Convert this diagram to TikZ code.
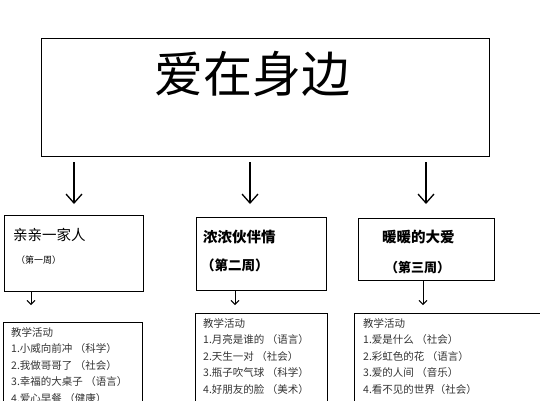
\documentclass[tikz,border=0pt]{standalone}
\usepackage{fontspec}
\setmainfont{Noto Sans CJK SC}
\usepackage{tikz}
\usetikzlibrary{arrows.meta}

\tikzset{
	box/.style={draw=black, line width=0.9pt, anchor=north west, inner sep=0pt},
	bigarrow/.style={line width=1.3pt, -{Straight Barb[length=9pt,width=16pt,line width=1.3pt]}},
	smallarrow/.style={line width=0.9pt, -{Straight Barb[length=4pt,width=8pt]}},
	txt/.style={anchor=west, inner sep=0pt},
	list/.style={anchor=north west, inner sep=0pt, align=left, text=black!80, font=\fontsize{10.5}{16.6}\selectfont}
}

\begin{document}
\begin{tikzpicture}[x=1pt, y=-1pt]
    \useasboundingbox (0,0) rectangle (540,400);
    \clip (0,0) rectangle (540,400);
    % top box
    \node[box, minimum width=448pt, minimum height=118pt] (top) at (41,38) {};
    \node[inner sep=0pt, font=\fontsize{49}{49}\selectfont] (title) at (252,74) {爱在身边};
    % weeks
    \node[box, minimum width=139pt, minimum height=76pt] (week1) at (4,215) {};
    \node[box, minimum width=130pt, minimum height=73pt] (week2) at (196,217) {};
    \node[box, minimum width=136pt, minimum height=62pt] (week3) at (358,218) {};
    \node[txt, font=\fontsize{14.5}{14.5}\selectfont] (name1) at (13,235) {亲亲一家人};
    \node[txt, font=\fontsize{9}{9}\selectfont] (num1) at (16,260) {（第一周）};
    \node[txt, font=\fontsize{14.5}{14.5}\selectfont\bfseries] (name2) at (203,237) {浓浓伙伴情};
    \node[txt, font=\fontsize{13.5}{13.5}\selectfont\bfseries] (num2) at (201,265) {（第二周）};
    \node[txt, font=\fontsize{14.5}{14.5}\selectfont\bfseries] (name3) at (382,237) {暖暖的大爱};
    \node[txt, font=\fontsize{13}{13}\selectfont\bfseries] (num3) at (385,268) {（第三周）};
    % arrows
    \coordinate (a1s) at (74,162);  \coordinate (a1e) at (74,204);
    \coordinate (a2s) at (250,162); \coordinate (a2e) at (250,204);
    \coordinate (a3s) at (426,162); \coordinate (a3e) at (426,204);
    \draw[bigarrow] (a1s) -- (a1e);
    \draw[bigarrow] (a2s) -- (a2e);
    \draw[bigarrow] (a3s) -- (a3e);
    % activities
    \node[box, minimum width=139pt, minimum height=100pt] (act1) at (3,322) {};
    \node[box, minimum width=132pt, minimum height=100pt] (act2) at (195,313) {};
    \node[box, minimum width=200pt, minimum height=100pt] (act3) at (354,313) {};
    \coordinate (b1e) at (31,305);
    \coordinate (b2e) at (235,305);
    \coordinate (b3e) at (423,305);
    \draw[smallarrow] (b1e |- week1.south) -- (b1e);
    \draw[smallarrow] (b2e |- week2.south) -- (b2e);
    \draw[smallarrow] (b3e |- week3.south) -- (b3e);
    \node[list] (list1) at (11,327) {教学活动\\1.小威向前冲 （科学）\\2.我做哥哥了 （社会）\\3.幸福的大桌子 （语言）\\4.爱心早餐 （健康）};
    \node[list] (list2) at (203,318) {教学活动\\1.月亮是谁的 （语言）\\2.天生一对 （社会）\\3.瓶子吹气球 （科学）\\4.好朋友的脸 （美术）};
    \node[list] (list3) at (363,318) {教学活动\\1.爱是什么 （社会）\\2.彩虹色的花 （语言）\\3.爱的人间 （音乐）\\4.看不见的世界（社会）};
\end{tikzpicture}
\end{document}
